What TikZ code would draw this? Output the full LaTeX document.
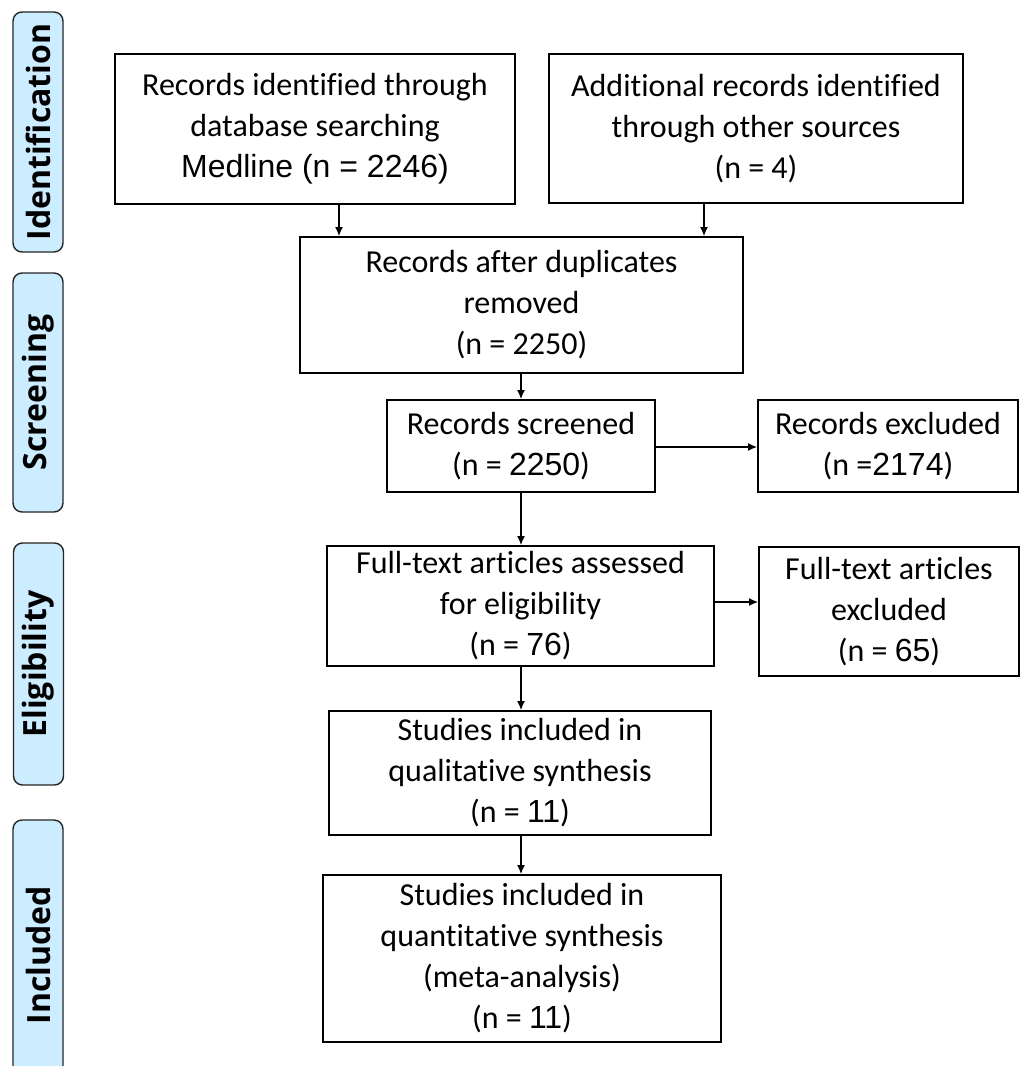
\documentclass[tikz,border=0pt]{standalone}
\usepackage{fontspec}
\setmainfont{Carlito}[Ligatures={NoCommon}]
\newfontfamily\arialf{Liberation Sans}
\newfontfamily\sidef{Open Sans}
\usetikzlibrary{arrows.meta}
\definecolor{sideblue}{RGB}{204,236,255}
\begin{document}
\begin{tikzpicture}[x=1pt,y=-1pt,
  box/.style={draw=black, line width=1.8pt, align=center, inner sep=0pt,
    font=\fontsize{32}{41}\selectfont},
  side/.style={draw=black!85, line width=1.4pt, fill=sideblue, rounded corners=9pt,
    rotate=90, minimum height=50pt, inner sep=0pt,
    font=\sidef\bfseries\fontsize{32}{36}\selectfont},
  conn/.style={line width=1.4pt, -{Latex[length=9pt,width=8pt]}}]
\clip (0,0) rectangle (1021,1066);
\fill[white] (0,0) rectangle (1021,1066);
% side labels
\node[side, minimum width=240pt] (sid) at (38,132) {Identification};
\node[side, minimum width=239pt] (sscr) at (38,392.5) {Screening};
\node[side, minimum width=242pt] (selig) at (38.5,664) {Eligibility};
\node[side, minimum width=270pt] (sinc) at (38,955) {Included};
% boxes
\node[box, minimum width=400pt, minimum height=150pt] (b1) at (315,129)
  {Records identified through\\database searching\\{\arialf Medline (n = 2246)}};
\node[box, minimum width=414pt, minimum height=149pt] (b2) at (756,128.5)
  {Additional records identified\\through other sources\\(n = 4)};
\node[box, minimum width=443pt, minimum height=136pt] (b3) at (521.5,305)
  {Records after duplicates\\removed\\(n = 2250)};
\node[box, minimum width=268pt, minimum height=92pt] (b4) at (521,446)
  {Records screened\\(n = {\arialf 2250})};
\node[box, minimum width=260pt, minimum height=92pt] (b5) at (888,446)
  {Records excluded\\(n ={\arialf 2174})};
\node[box, minimum width=387pt, minimum height=120pt] (b6) at (520.5,606)
  {Full-text articles assessed\\for eligibility\\(n = {\arialf 76})};
\node[box, minimum width=260pt, minimum height=129pt] (b7) at (889,611.5)
  {Full-text articles\\excluded\\(n = {\arialf 65})};
\node[box, minimum width=382pt, minimum height=124pt] (b8) at (520,773)
  {Studies included in\\qualitative synthesis\\(n = {\arialf 11})};
\node[box, minimum width=398pt, minimum height=167pt] (b9) at (522,958.5)
  {Studies included in\\quantitative synthesis\\(meta-analysis)\\(n = {\arialf 11})};
% connectors
\draw[conn] (b1.south -| 339,0) -- (b3.north -| 339,0);
\draw[conn] (b2.south -| 704,0) -- (b3.north -| 704,0);
\draw[conn] (b3.south -| 521,0) -- (b4.north -| 521,0);
\draw[conn] (b4.east |- 0,447) -- (b5.west |- 0,447);
\draw[conn] (b4.south -| 521,0) -- (b6.north -| 521,0);
\draw[conn] (b6.east |- 0,602) -- (b7.west |- 0,602);
\draw[conn] (b6.south -| 521,0) -- (b8.north -| 521,0);
\draw[conn] (b8.south -| 521,0) -- (b9.north -| 521,0);
\end{tikzpicture}
\end{document}
